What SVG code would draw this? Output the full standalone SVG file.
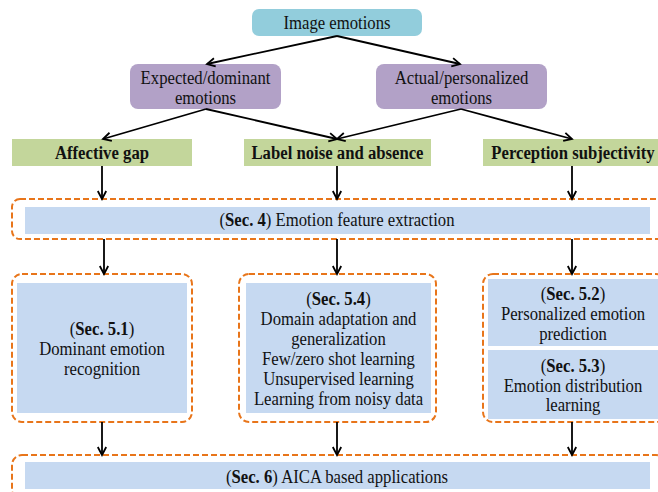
<svg xmlns="http://www.w3.org/2000/svg" width="658" height="492" viewBox="0 0 658 492" font-family="Liberation Serif, Times New Roman, DejaVu Serif, serif">
<defs>
<marker id="arr" markerUnits="userSpaceOnUse" markerWidth="12" markerHeight="12" refX="9" refY="5" orient="auto" overflow="visible">
<path d="M1,0.8 L9,5 L1,9.2" fill="none" stroke="#000" stroke-width="1.8"/>
</marker>
</defs>
<style>
text{font-family:'Liberation Serif','Times New Roman','DejaVu Serif',serif;font-size:16.7px;fill:#111;text-anchor:middle;transform-box:fill-box;transform-origin:center;transform:scaleY(1.1)}
.b{font-weight:bold}
.dash{fill:none;stroke:#E8751A;stroke-width:2;stroke-dasharray:6 3}
.blue{fill:#C6D9F1}
.green{fill:#C3D69B}
.purple{fill:#B2A1C7}
.cyan{fill:#92CDDC}
.conn line{stroke:#000;stroke-width:1.8;marker-end:url(#arr)}
</style>
<rect width="658" height="492" fill="#fff"/>

<g id="image-emotions">
<rect class="cyan" x="252" y="9" width="170" height="27" rx="7"/>
<text x="337" y="28.5">Image emotions</text>
</g>
<g id="expected">
<rect class="purple" x="130" y="64" width="151" height="45" rx="8"/>
<text x="205.5" y="83.5">Expected/dominant</text>
<text x="205.5" y="103.5">emotions</text>
</g>
<g id="actual">
<rect class="purple" x="376" y="64" width="171" height="45" rx="8"/>
<text x="461.5" y="83.5">Actual/personalized</text>
<text x="461.5" y="103.5">emotions</text>
</g>
<g id="affective-gap">
<rect class="green" x="12" y="139" width="180" height="27"/>
<text class="b" x="102" y="158.5">Affective gap</text>
</g>
<g id="label-noise">
<rect class="green" x="244" y="139" width="187" height="27"/>
<text class="b" x="337.5" y="158.5">Label noise and absence</text>
</g>
<g id="perception">
<rect class="green" x="483" y="139" width="180" height="27"/>
<text class="b" x="573" y="158.5">Perception subjectivity</text>
</g>

<g id="sec4">
<rect class="dash" x="12" y="199" width="654" height="40" rx="8"/>
<rect class="blue" x="25" y="207" width="625" height="27"/>
<text x="337" y="225.5">(<tspan class="b">Sec. 4</tspan>) Emotion feature extraction</text>
</g>

<g id="sec51">
<rect class="dash" x="12" y="274" width="180" height="148" rx="10"/>
<rect class="blue" x="17" y="283" width="170" height="130"/>
<text x="102" y="334.5">(<tspan class="b">Sec. 5.1</tspan>)</text>
<text x="102" y="354.5">Dominant emotion</text>
<text x="102" y="374.5">recognition</text>
</g>

<g id="sec54">
<rect class="dash" x="239" y="274" width="197" height="148" rx="10"/>
<rect class="blue" x="246" y="283" width="185" height="130"/>
<text x="338.5" y="304.5">(<tspan class="b">Sec. 5.4</tspan>)</text>
<text x="338.5" y="324.5">Domain adaptation and</text>
<text x="338.5" y="344.5">generalization</text>
<text x="338.5" y="364.5">Few/zero shot learning</text>
<text x="338.5" y="384.5">Unsupervised learning</text>
<text x="338.5" y="404.5">Learning from noisy data</text>
</g>

<g id="sec52-53">
<rect class="dash" x="483" y="274" width="183" height="148" rx="10"/>
</g>
<g id="sec52">
<rect class="blue" x="488" y="279" width="170" height="67"/>
<text x="573" y="299.5">(<tspan class="b">Sec. 5.2</tspan>)</text>
<text x="573" y="319.5">Personalized emotion</text>
<text x="573" y="339.5">prediction</text>
</g>
<g id="sec53">
<rect class="blue" x="488" y="350" width="170" height="69"/>
<text x="573" y="371.5">(<tspan class="b">Sec. 5.3</tspan>)</text>
<text x="573" y="391.5">Emotion distribution</text>
<text x="573" y="410.5">learning</text>
</g>

<g id="sec6">
<rect class="dash" x="12" y="455" width="654" height="45" rx="10"/>
<rect class="blue" x="25" y="462" width="625" height="27"/>
<text x="337" y="482.5">(<tspan class="b">Sec. 6</tspan>) AICA based applications</text>
</g>

<g id="connectors" class="conn">
<line x1="337" y1="36" x2="207" y2="64"/>
<line x1="337" y1="36" x2="460" y2="64"/>
<line x1="206" y1="109" x2="103" y2="139"/>
<line x1="206" y1="109" x2="337" y2="139"/>
<line x1="461" y1="109" x2="337" y2="139"/>
<line x1="461" y1="109" x2="572" y2="139"/>
<line x1="102" y1="166" x2="102" y2="199"/>
<line x1="337" y1="166" x2="337" y2="199"/>
<line x1="572" y1="166" x2="572" y2="199"/>
<line x1="104" y1="239" x2="104" y2="274"/>
<line x1="337" y1="239" x2="337" y2="274"/>
<line x1="572" y1="239" x2="572" y2="274"/>
<line x1="102" y1="422" x2="102" y2="455"/>
<line x1="337" y1="422" x2="337" y2="455"/>
<line x1="572" y1="422" x2="572" y2="455"/>
</g>
</svg>
